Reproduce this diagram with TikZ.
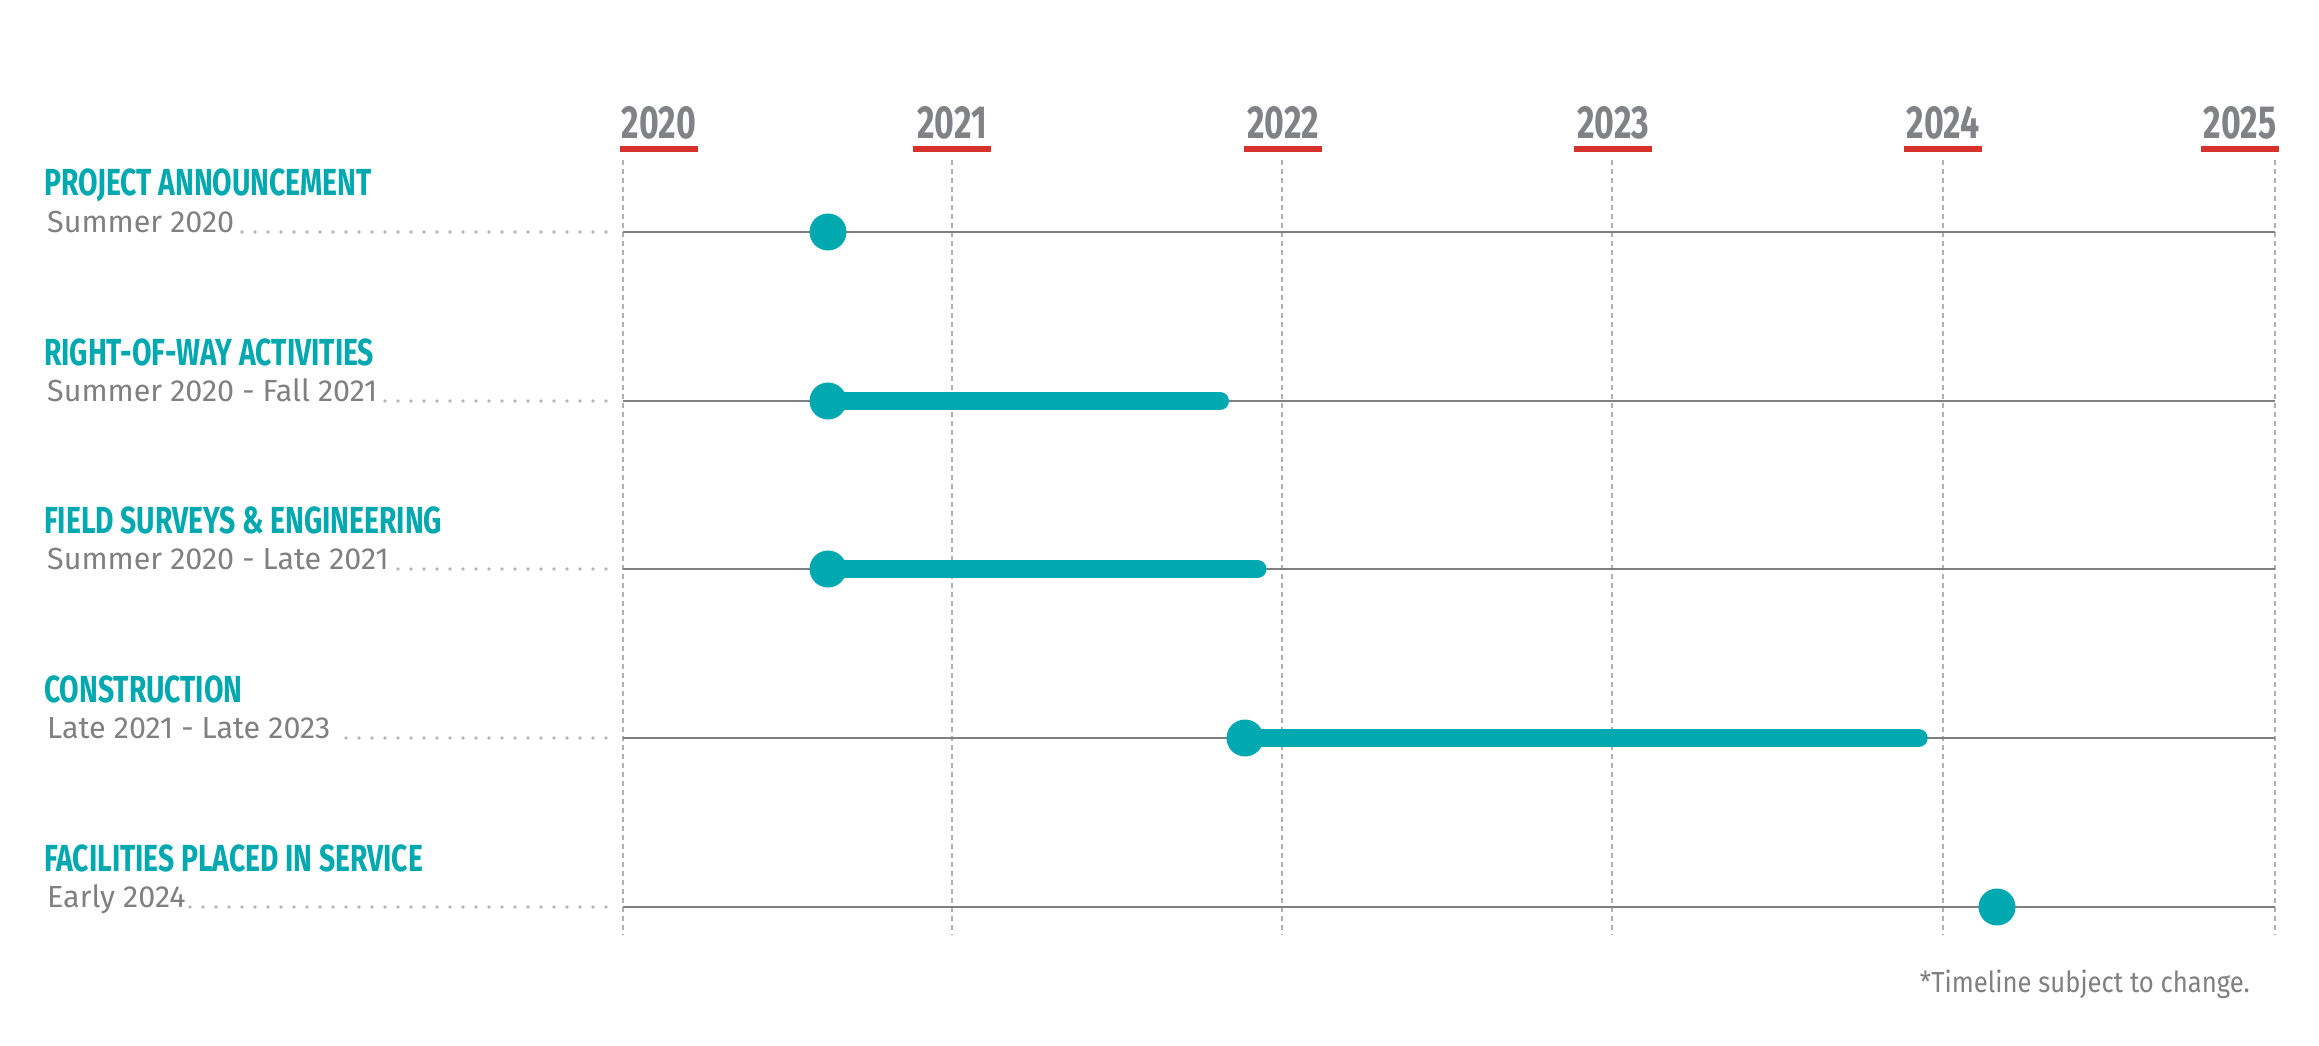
\documentclass[tikz,border=0pt]{standalone}
\usepackage{fontspec}
\setmainfont{Fira Sans}
\newfontfamily\condfont[FakeStretch=0.75]{Fira Sans}
\newfontfamily\yearfont[FakeStretch=0.73]{Fira Sans}
\newfontfamily\notefont[FakeStretch=0.885]{Fira Sans}
\usetikzlibrary{calc}
\definecolor{tealc}{HTML}{00A9B0}
\definecolor{redc}{HTML}{D7312B}
\definecolor{yeargray}{HTML}{808285}
\definecolor{subgray}{HTML}{808080}
\definecolor{rowgray}{HTML}{7F7F7F}
\definecolor{gridgray}{HTML}{B0B0B0}
\definecolor{dotgray}{HTML}{B5B5B5}
\begin{document}
\begin{tikzpicture}[x=1pt,y=-1pt,
  titletext/.style={anchor=base west,inner sep=0pt,text=tealc,font=\condfont\bfseries\fontsize{37.7}{40}\selectfont},
  subtext/.style={anchor=base west,inner sep=0pt,text=subgray,font=\fontsize{30.5}{32}\selectfont},
  yeartext/.style={anchor=base,inner sep=0pt,text=yeargray,font=\yearfont\bfseries\fontsize{46.4}{48}\selectfont},
  gridline/.style={draw=gridgray,line width=1.6pt,dash pattern=on 5pt off 4pt},
  rowline/.style={draw=rowgray,line width=2.2pt},
  leader/.style={draw=dotgray,line width=3.8pt,line cap=round,dash pattern=on 0pt off 13pt,shorten >=3pt},
  milestone/.style={circle,fill=tealc,minimum size=37pt,inner sep=0pt},
  phasebar/.style={draw=tealc,line width=18pt,line cap=round}
]
\useasboundingbox[fill=white] (0,0) rectangle (2319,1046);

% years and grid
\foreach \yr/\gx/\lx in {2020/623/659, 2021/952/952, 2022/1282/1283, 2023/1612/1613, 2024/1943/1943, 2025/2275/2240}{
  \node[yeartext] (y\yr) at (\lx,139) {\yr};
  \fill[redc] (\lx-39,146) rectangle (\lx+39,152);
  \coordinate (gt\yr) at (\gx,160);
  \coordinate (gb\yr) at (\gx,935);
  \draw[gridline] (gt\yr) -- (gb\yr);
}

% rows
\foreach \i/\ly/\t/\s in {
  1/232/PROJECT ANNOUNCEMENT/Summer 2020,
  2/401/RIGHT-OF-WAY ACTIVITIES/Summer 2020 - Fall 2021,
  3/569/FIELD SURVEYS \& ENGINEERING/Summer 2020 - Late 2021,
  4/738/CONSTRUCTION/Late 2021 - Late 2023,
  5/907/FACILITIES PLACED IN SERVICE/Early 2024}{
  \node[titletext] (t\i) at (44,\ly-36) {\t};
  \node[subtext] (s\i) at (47,\ly) {\s};
  \coordinate (le\i) at (606,\ly);
  \draw[leader] (le\i) -- (s\i.base east);
  \coordinate (ra\i) at (623,\ly);
  \coordinate (rb\i) at (2275,\ly);
  \draw[rowline] (ra\i) -- (rb\i);
}

% milestones and phases
\node[milestone] (m1) at (828,232) {};
\node[milestone] (m2) at (828,401) {};
\coordinate (e2) at (1220,401);
\draw[phasebar] (m2.center) -- (e2);
\node[milestone] (m3) at (828,569) {};
\coordinate (e3) at (1257.5,569);
\draw[phasebar] (m3.center) -- (e3);
\node[milestone] (m4) at (1245,738) {};
\coordinate (e4) at (1918.7,738);
\draw[phasebar] (m4.center) -- (e4);
\node[milestone] (m5) at (1997,907) {};

\node[anchor=base east,inner sep=0pt,text=subgray,font=\notefont\fontsize{29}{30}\selectfont] (note) at (2250,992) {*Timeline subject to change.};
\end{tikzpicture}
\end{document}
